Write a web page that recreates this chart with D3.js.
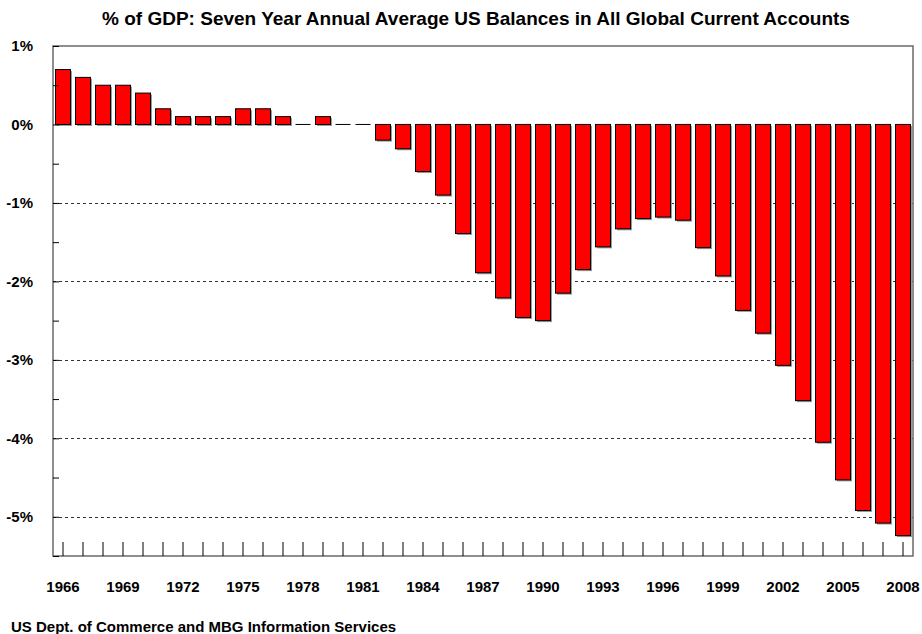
<!DOCTYPE html>
<html>
<head>
<meta charset="utf-8">
<script src="https://cdn.jsdelivr.net/npm/d3@7"></script>
<style>
  body { margin: 0; background: #fff; }
  svg text { font-family: Arial, "Liberation Sans", sans-serif; fill: #000; }
</style>
</head>
<body>
<div id="chart"></div>
<script>
// Data
const years = d3.range(1966, 2009);
const balances = [
  0.70, 0.60, 0.50, 0.50, 0.40, 0.20, 0.10, 0.10, 0.10, 0.20,
  0.20, 0.10, 0.00, 0.10, 0.00, 0.00, -0.20, -0.31, -0.60, -0.90,
  -1.39, -1.89, -2.21, -2.46, -2.50, -2.15, -1.85, -1.56, -1.33, -1.20,
  -1.18, -1.22, -1.57, -1.93, -2.37, -2.66, -3.07, -3.52, -4.05, -4.53,
  -4.92, -5.08, -5.24
];
const yTicks = [1, 0, -1, -2, -3, -4, -5];
const gridTicks = [-1, -2, -3, -4, -5];
const labelYears = d3.range(1966, 2009, 3);

const data = years.map((yr, i) => ({ year: yr, value: balances[i] }));

const W = 922, H = 634;
const plot = { left: 53, right: 913, top: 46, bottom: 556 };

const svg = d3.select('#chart')
  .append('svg')
  .attr('width', W)
  .attr('height', H);

const x = d3.scaleBand()
  .domain(years)
  .range([plot.left, plot.right])
  .paddingInner(0.25)
  .paddingOuter(0.125);

const y = d3.scaleLinear()
  .domain([-5.5, 1])
  .range([plot.bottom, plot.top]);

// Title
svg.append('text')
  .attr('x', 476)
  .attr('y', 25)
  .attr('text-anchor', 'middle')
  .style('font-size', '19px')
  .style('font-weight', 'bold')
  .text('% of GDP: Seven Year Annual Average US Balances in All Global Current Accounts');

// Dashed grid lines
svg.append('g')
  .selectAll('line')
  .data(gridTicks)
  .enter()
  .append('line')
  .attr('x1', plot.left)
  .attr('x2', plot.right)
  .attr('y1', d => Math.round(y(d)) + 0.5)
  .attr('y2', d => Math.round(y(d)) + 0.5)
  .attr('stroke', '#333')
  .attr('stroke-width', 1)
  .attr('stroke-dasharray', '3,3');

// Bars with a grey drop shadow
const bars = svg.append('g');

bars.selectAll('rect.shadow')
  .data(data.filter(d => d.value !== 0))
  .enter()
  .append('rect')
  .attr('class', 'shadow')
  .attr('x', d => x(d.year) + 1.5)
  .attr('y', d => Math.min(y(0), y(d.value)) + 1.5)
  .attr('width', x.bandwidth())
  .attr('height', d => Math.abs(y(d.value) - y(0)))
  .attr('fill', '#9a9a9a');

bars.selectAll('rect.bar')
  .data(data.filter(d => d.value !== 0))
  .enter()
  .append('rect')
  .attr('class', 'bar')
  .attr('x', d => x(d.year))
  .attr('y', d => Math.min(y(0), y(d.value)))
  .attr('width', x.bandwidth())
  .attr('height', d => Math.abs(y(d.value) - y(0)))
  .attr('fill', '#ff0000')
  .attr('stroke', '#000')
  .attr('stroke-width', 1);

// zero-height bars show as a flat line
bars.selectAll('line.zero')
  .data(data.filter(d => d.value === 0))
  .enter()
  .append('line')
  .attr('x1', d => x(d.year))
  .attr('x2', d => x(d.year) + x.bandwidth())
  .attr('y1', y(0))
  .attr('y2', y(0))
  .attr('stroke', '#000')
  .attr('stroke-width', 1);

// Plot frame
svg.append('rect')
  .attr('x', plot.left)
  .attr('y', plot.top)
  .attr('width', plot.right - plot.left)
  .attr('height', plot.bottom - plot.top)
  .attr('fill', 'none')
  .attr('stroke', '#6a6a6a')
  .attr('stroke-width', 1.5);

// Y axis: inward ticks every 0.5%, labels at whole %
const yAxis = svg.append('g')
  .attr('transform', `translate(${plot.left},0)`)
  .call(d3.axisRight(y)
    .tickValues(d3.range(-5.5, 1.01, 0.5))
    .tickSize(6)
    .tickFormat(''));
yAxis.select('.domain').remove();
yAxis.selectAll('line').attr('stroke', '#000');

svg.append('g')
  .selectAll('text')
  .data(yTicks)
  .enter()
  .append('text')
  .attr('x', 33)
  .attr('y', d => y(d))
  .attr('dy', '0.35em')
  .attr('text-anchor', 'end')
  .style('font-size', '15px')
  .style('font-weight', 'bold')
  .text(d => `${d}%`);

// X axis: ticks pointing up from bottom frame
const xAxis = svg.append('g')
  .attr('transform', `translate(0,${plot.bottom})`)
  .call(d3.axisTop(x).tickSize(14).tickFormat(''));
xAxis.select('.domain').remove();
xAxis.selectAll('line').attr('stroke', '#000');

svg.append('g')
  .selectAll('text')
  .data(labelYears)
  .enter()
  .append('text')
  .attr('x', d => x(d) + x.bandwidth() / 2)
  .attr('y', 592)
  .attr('text-anchor', 'middle')
  .style('font-size', '15px')
  .style('font-weight', 'bold')
  .text(d => d);

// Source note
svg.append('text')
  .attr('x', 11)
  .attr('y', 632)
  .style('font-size', '15px')
  .style('font-weight', 'bold')
  .text('US Dept. of Commerce and MBG Information Services');
</script>
</body>
</html>
